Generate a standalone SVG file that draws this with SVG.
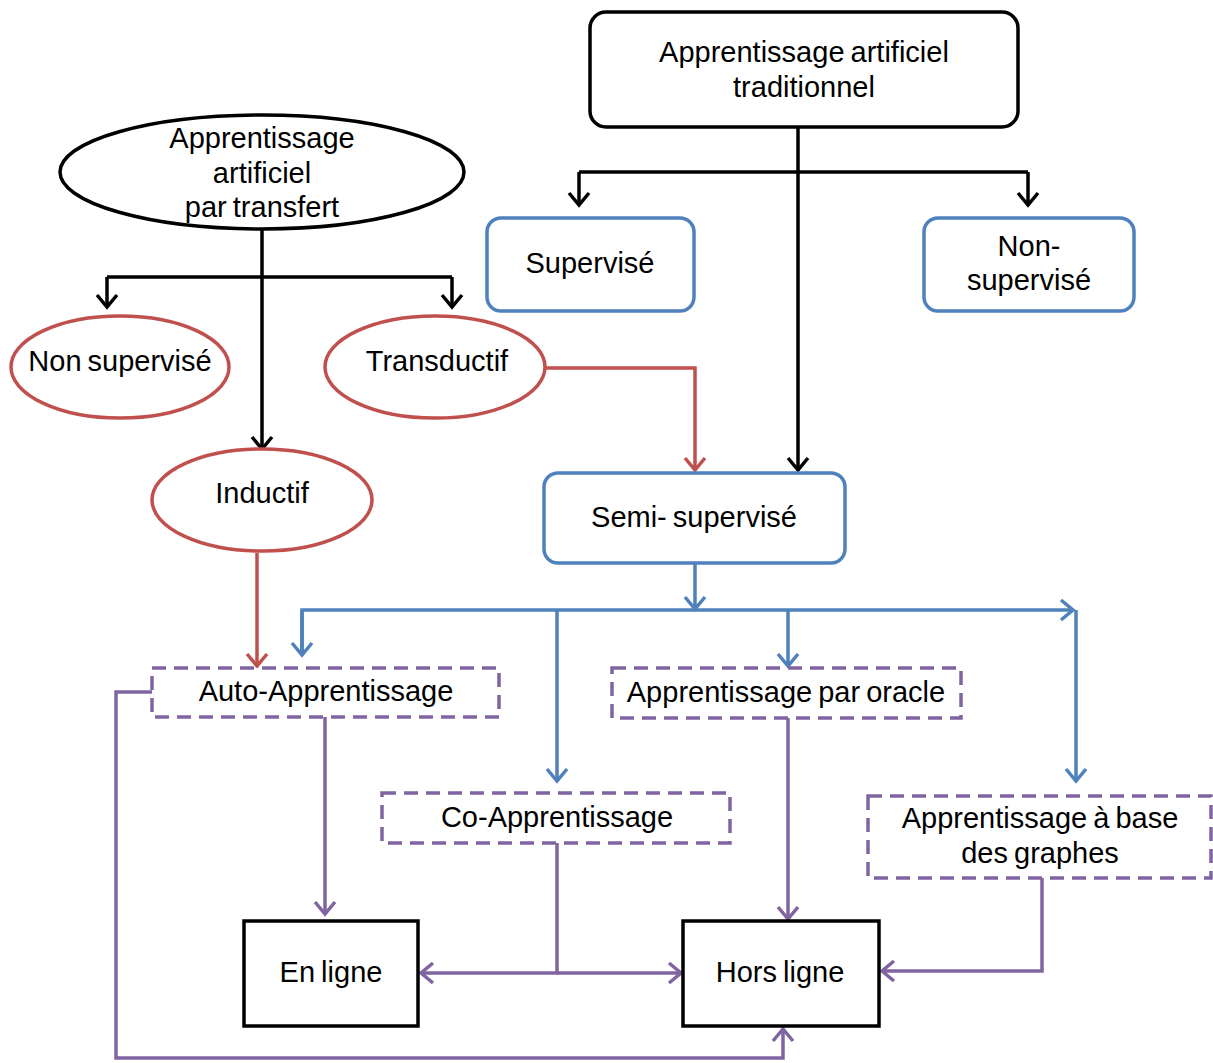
<svg xmlns="http://www.w3.org/2000/svg" width="1213" height="1063" viewBox="0 0 1213 1063">
  <style>
    text { font-family: "Liberation Sans", Arial, sans-serif; font-size: 29px; fill: #000; text-anchor: middle; word-spacing: -2px; }
    .blk { fill: #fff; stroke: #000; stroke-width: 3.5; }
    .red { fill: #fff; stroke: #c0504d; stroke-width: 3.5; }
    .blu { fill: #fff; stroke: #4f81bd; stroke-width: 3.5; }
    .dsh { fill: #fff; stroke: #8064a2; stroke-width: 3.5; stroke-dasharray: 14 8; }
    .c { fill: none; stroke-width: 3.5; stroke-linejoin: miter; }
    .ck { stroke: #000; stroke-width: 3.5; }
    .cr { stroke: #c0504d; }
    .cb { stroke: #4f81bd; }
    .cp { stroke: #8064a2; }
  </style>
  <defs>
    <marker id="ak" markerUnits="userSpaceOnUse" markerWidth="30" markerHeight="30" viewBox="-15 -15 30 30" refX="0" refY="0" orient="auto">
      <path d="M-12,-10 L0,0 L-12,10" fill="none" stroke="#000" stroke-width="3.5"/>
    </marker>
    <marker id="ar" markerUnits="userSpaceOnUse" markerWidth="30" markerHeight="30" viewBox="-15 -15 30 30" refX="0" refY="0" orient="auto">
      <path d="M-12,-10 L0,0 L-12,10" fill="none" stroke="#c0504d" stroke-width="3.5"/>
    </marker>
    <marker id="ab" markerUnits="userSpaceOnUse" markerWidth="30" markerHeight="30" viewBox="-15 -15 30 30" refX="0" refY="0" orient="auto">
      <path d="M-12,-10 L0,0 L-12,10" fill="none" stroke="#4f81bd" stroke-width="3.5"/>
    </marker>
    <marker id="ap" markerUnits="userSpaceOnUse" markerWidth="30" markerHeight="30" viewBox="-15 -15 30 30" refX="0" refY="0" orient="auto">
      <path d="M-12,-10 L0,0 L-12,10" fill="none" stroke="#8064a2" stroke-width="3.5"/>
    </marker>
  </defs>

  <!-- connectors -->
  <g id="connectors">
    <!-- transfer learning branches -->
    <path class="c ck" d="M262,229 V449" marker-end="url(#ak)"/>
    <path class="c ck" d="M107,277 H452"/>
    <path class="c ck" d="M107,277 V307" marker-end="url(#ak)"/>
    <path class="c ck" d="M452,277 V307" marker-end="url(#ak)"/>
    <!-- traditional learning branches -->
    <path class="c ck" d="M798,127 V470" marker-end="url(#ak)"/>
    <path class="c ck" d="M579,172 H1028"/>
    <path class="c ck" d="M579,172 V205" marker-end="url(#ak)"/>
    <path class="c ck" d="M1028,172 V205" marker-end="url(#ak)"/>
    <!-- red links -->
    <path class="c cr" d="M546,368 H695 V470" marker-end="url(#ar)"/>
    <path class="c cr" d="M257,553 V666" marker-end="url(#ar)"/>
    <!-- semi-supervised branches -->
    <path class="c cb" d="M695,564 V609" marker-end="url(#ab)"/>
    <path class="c cb" d="M302,655 V610 H1073" marker-end="url(#ab)"/>
    <path class="c cb" d="M302,610 V655" marker-end="url(#ab)"/>
    <path class="c cb" d="M1076,610 V781" marker-end="url(#ab)"/>
    <path class="c cb" d="M557,610 V781" marker-end="url(#ab)"/>
    <path class="c cb" d="M788,610 V666" marker-end="url(#ab)"/>
    <!-- purple links -->
    <path class="c cp" d="M325,717 V914" marker-end="url(#ap)"/>
    <path class="c cp" d="M152,692 H116 V1058 H783 V1029" marker-end="url(#ap)"/>
    <path class="c cp" d="M788,718 V919" marker-end="url(#ap)"/>
    <path class="c cp" d="M557,843 V973 H421" marker-end="url(#ap)"/>
    <path class="c cp" d="M557,973 H681" marker-end="url(#ap)"/>
    <path class="c cp" d="M1042,878 V971 H882" marker-end="url(#ap)"/>
  </g>

  <!-- nodes -->
  <g id="transfert">
    <ellipse class="blk" cx="262" cy="172" rx="202" ry="57"/>
    <text x="262" y="148">Apprentissage</text>
    <text x="262" y="183">artificiel</text>
    <text x="262" y="217">par transfert</text>
  </g>
  <g id="traditionnel">
    <rect class="blk" x="590" y="12" width="428" height="115" rx="16"/>
    <text x="804" y="62">Apprentissage artificiel</text>
    <text x="804" y="97">traditionnel</text>
  </g>
  <g id="non-supervise-transfert">
    <ellipse class="red" cx="120" cy="367" rx="109" ry="51"/>
    <text x="120" y="371">Non supervisé</text>
  </g>
  <g id="transductif">
    <ellipse class="red" cx="435" cy="367" rx="110" ry="51"/>
    <text x="437" y="371">Transductif</text>
  </g>
  <g id="inductif">
    <ellipse class="red" cx="262" cy="500" rx="110" ry="51"/>
    <text x="262" y="503">Inductif</text>
  </g>
  <g id="supervise">
    <rect class="blu" x="487" y="218" width="207" height="93" rx="14"/>
    <text x="590" y="273">Supervisé</text>
  </g>
  <g id="non-supervise">
    <rect class="blu" x="924" y="218" width="210" height="93" rx="14"/>
    <text x="1029" y="256">Non-</text>
    <text x="1029" y="290">supervisé</text>
  </g>
  <g id="semi-supervise">
    <rect class="blu" x="544" y="473" width="301" height="90" rx="14"/>
    <text x="694" y="527">Semi- supervisé</text>
  </g>
  <g id="auto-apprentissage">
    <rect class="dsh" x="152" y="668" width="347" height="49"/>
    <text x="326" y="701">Auto-Apprentissage</text>
  </g>
  <g id="oracle">
    <rect class="dsh" x="612" y="668" width="349" height="50"/>
    <text x="786" y="702">Apprentissage par oracle</text>
  </g>
  <g id="co-apprentissage">
    <rect class="dsh" x="382" y="793" width="348" height="50"/>
    <text x="557" y="827">Co-Apprentissage</text>
  </g>
  <g id="graphes">
    <rect class="dsh" x="868" y="796" width="343" height="82"/>
    <text x="1040" y="828">Apprentissage à base</text>
    <text x="1040" y="863">des graphes</text>
  </g>
  <g id="en-ligne">
    <rect class="blk" x="244" y="921" width="174" height="105" stroke-width="4"/>
    <text x="331" y="982">En ligne</text>
  </g>
  <g id="hors-ligne">
    <rect class="blk" x="683" y="921" width="196" height="105" stroke-width="4"/>
    <text x="780" y="982">Hors ligne</text>
  </g>
</svg>
